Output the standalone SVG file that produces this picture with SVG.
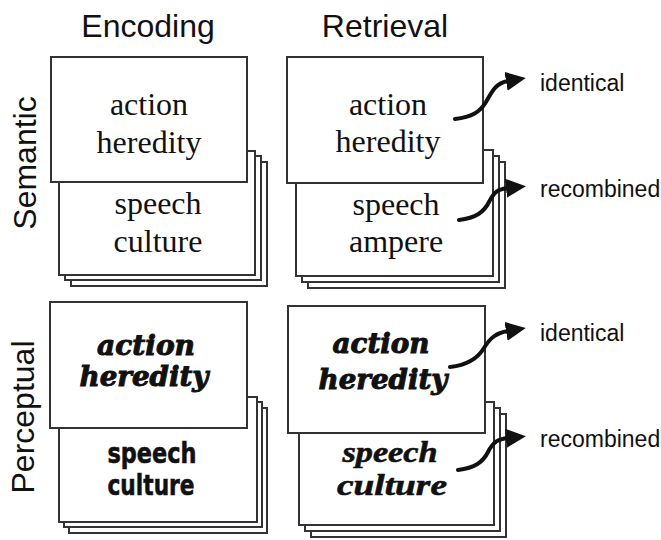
<svg xmlns="http://www.w3.org/2000/svg" width="661" height="540" viewBox="0 0 661 540">
<style>
.card{fill:#fff;stroke:#333;stroke-width:2}
.hdr{font-family:"Liberation Sans",Arial,sans-serif;font-size:32px;fill:#111}
.lbl{font-family:"Liberation Sans",Arial,sans-serif;font-size:23px;fill:#111}
.sem{font-family:"Liberation Serif","Times New Roman",serif;font-size:32px;fill:#111;text-anchor:middle}
.pa{font-family:"DejaVu Serif",serif;font-weight:bold;font-style:italic;font-size:27px;fill:#111;stroke:#111;stroke-width:1;text-anchor:middle}
.pb{font-family:"DejaVu Sans",sans-serif;font-weight:bold;font-size:28px;fill:#111;stroke:#111;stroke-width:0.6;text-anchor:middle}
.pc{font-family:"Liberation Serif",serif;font-weight:bold;font-style:italic;font-size:30px;fill:#111;stroke:#111;stroke-width:0.6;text-anchor:middle}
.arr{fill:none;stroke:#111;stroke-width:4;stroke-linecap:round;marker-end:url(#head)}
</style>
<defs>
<marker id="head" markerUnits="userSpaceOnUse" markerWidth="22" markerHeight="20" refX="2" refY="9.5" orient="auto">
<path d="M0,0 L20,9.5 L0,19 z" fill="#111"/>
</marker>
</defs>
<rect width="661" height="540" fill="#fff"/>
<text class="hdr" x="148" y="37" text-anchor="middle">Encoding</text>
<text class="hdr" x="385" y="37" text-anchor="middle">Retrieval</text>
<text class="hdr" transform="translate(36,163) rotate(-90)" text-anchor="middle">Semantic</text>
<text class="hdr" transform="translate(34,417) rotate(-90)" text-anchor="middle">Perceptual</text>

<g id="sem-enc-back">
<rect class="card" x="71" y="162" width="196" height="124"/>
<rect class="card" x="65" y="156" width="196" height="124"/>
<rect class="card" x="59" y="151" width="196" height="124"/>
<text class="sem" x="158" y="214">speech</text>
<text class="sem" x="158" y="252">culture</text>
</g>
<g id="sem-enc-front">
<rect class="card" x="51" y="57" width="196" height="125"/>
<text class="sem" x="149" y="115">action</text>
<text class="sem" x="149" y="153">heredity</text>
</g>

<g id="sem-ret-back">
<rect class="card" x="308" y="162" width="197" height="126"/>
<rect class="card" x="302" y="156" width="197" height="126"/>
<rect class="card" x="296" y="150" width="197" height="126"/>
<text class="sem" x="396" y="215">speech</text>
<text class="sem" x="396" y="252">ampere</text>
</g>
<g id="sem-ret-front">
<rect class="card" x="287" y="57" width="196" height="126"/>
<text class="sem" x="388" y="115">action</text>
<text class="sem" x="388" y="152">heredity</text>
</g>

<g id="per-enc-back">
<rect class="card" x="69" y="408" width="198" height="125"/>
<rect class="card" x="64" y="402" width="198" height="125"/>
<rect class="card" x="59" y="397" width="198" height="125"/>
<text class="pb" x="152" y="463" textLength="89" lengthAdjust="spacingAndGlyphs">speech</text>
<text class="pb" x="151" y="495" textLength="87" lengthAdjust="spacingAndGlyphs">culture</text>
</g>
<g id="per-enc-front">
<rect class="card" x="50" y="302" width="197" height="126"/>
<text class="pa" x="146" y="355" textLength="98" lengthAdjust="spacingAndGlyphs">action</text>
<text class="pa" x="144" y="386" textLength="129" lengthAdjust="spacingAndGlyphs">heredity</text>
</g>

<g id="per-ret-back">
<rect class="card" x="311" y="414" width="195" height="123"/>
<rect class="card" x="305" y="408" width="195" height="123"/>
<rect class="card" x="299" y="402" width="195" height="123"/>
<text class="pc" x="390" y="462" textLength="95" lengthAdjust="spacingAndGlyphs">speech</text>
<text class="pc" x="392" y="495" textLength="110" lengthAdjust="spacingAndGlyphs">culture</text>
</g>
<g id="per-ret-front">
<rect class="card" x="288" y="306" width="197" height="127"/>
<text class="pa" x="381" y="353" textLength="97" lengthAdjust="spacingAndGlyphs">action</text>
<text class="pa" x="383" y="389" textLength="129" lengthAdjust="spacingAndGlyphs">heredity</text>
</g>

<g id="connectors">
<path class="arr" d="M455,119 C472,117 480,112 486,102 C492,91 496,83 508,81"/>
<path class="arr" d="M459,220 C476,218 484,212 489,202 C494,192 498,189 508,188"/>
<path class="arr" d="M450,367 C468,365 478,358 484,348 C490,338 496,333 508,331"/>
<path class="arr" d="M458,470 C475,468 483,462 488,452 C493,442 498,439 508,438"/>
</g>

<g id="labels">
<text class="lbl" x="540" y="91">identical</text>
<text class="lbl" x="540" y="197">recombined</text>
<text class="lbl" x="540" y="341">identical</text>
<text class="lbl" x="540" y="447">recombined</text>
</g>
</svg>
